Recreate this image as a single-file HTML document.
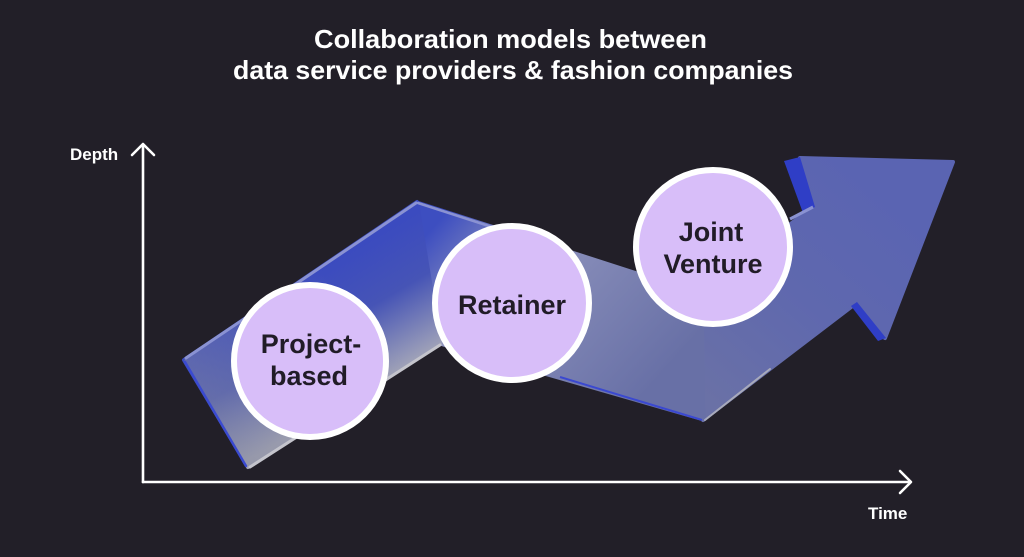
<!DOCTYPE html>
<html>
<head>
<meta charset="utf-8">
<style>
  html,body{margin:0;padding:0;background:#221f28;}
  body{width:1024px;height:557px;overflow:hidden;}
  svg{display:block;}
  text{font-family:"Liberation Sans", Arial, sans-serif;font-weight:bold;}
</style>
</head>
<body>
<svg width="1024" height="557" viewBox="0 0 1024 557" xmlns="http://www.w3.org/2000/svg">
  <defs>
    <linearGradient id="gA" gradientUnits="userSpaceOnUse" x1="300" y1="281" x2="365" y2="392">
      <stop offset="0" stop-color="#3b4bbf"/>
      <stop offset="0.45" stop-color="#4654b6"/>
      <stop offset="1" stop-color="#a2a4b8"/>
    </linearGradient>
    <linearGradient id="gA2" gradientUnits="userSpaceOnUse" x1="340" y1="290" x2="205" y2="420">
      <stop offset="0" stop-color="#8a8c9c" stop-opacity="0"/>
      <stop offset="1" stop-color="#8a8c9c" stop-opacity="0.5"/>
    </linearGradient>
    <linearGradient id="gB" gradientUnits="userSpaceOnUse" x1="440" y1="220" x2="640" y2="400">
      <stop offset="0" stop-color="#3d4ec0"/>
      <stop offset="0.3" stop-color="#8e93bd"/>
      <stop offset="1" stop-color="#6870a6"/>
    </linearGradient>
    <linearGradient id="gC" gradientUnits="userSpaceOnUse" x1="720" y1="410" x2="900" y2="200">
      <stop offset="0" stop-color="#6a71a6"/>
      <stop offset="0.5" stop-color="#5f68ae"/>
      <stop offset="1" stop-color="#5a64b2"/>
    </linearGradient>
  </defs>

  <!-- Title -->
  <text x="314" y="48" font-size="26" fill="#ffffff" textLength="393" lengthAdjust="spacingAndGlyphs">Collaboration models between</text>
  <text x="233" y="79" font-size="26" fill="#ffffff" textLength="560" lengthAdjust="spacingAndGlyphs">data service providers &amp; fashion companies</text>

  <!-- Ribbon arrow -->
  <g stroke-linejoin="round">
    <!-- segment C (right shaft + head) -->
    <polygon points="698,294 813,207 800,158 953,162 885,338 855,304 703,420" fill="url(#gC)" stroke="url(#gC)" stroke-width="4"/>
    <!-- segment B (middle) -->
    <polygon points="417,202 702,294 704,420 440,344" fill="url(#gB)" stroke="url(#gB)" stroke-width="3"/>
    <!-- segment A (left) -->
    <polygon points="184,360 417,202 440,344 248,467" fill="url(#gA)" stroke="url(#gA)" stroke-width="4"/>
    <polygon points="184,360 417,202 440,344 248,467" fill="url(#gA2)"/>

    <!-- side faces / edges -->
    <polygon points="784,161 800,157 815,207 803,213" fill="#2f3ec6"/>
    <polygon points="851,306 857,302 886,338 878,341" fill="#2f3ec6"/>
    <line x1="186" y1="358" x2="416" y2="203" stroke="#8a92d2" stroke-width="3" stroke-linecap="round"/>
    <line x1="418" y1="203" x2="495" y2="228" stroke="#8a92d2" stroke-width="2.5" stroke-linecap="round"/>
    <line x1="185" y1="362" x2="246" y2="466" stroke="#3a4ad0" stroke-width="2.5" stroke-linecap="round"/>
    <line x1="250" y1="467" x2="440" y2="345" stroke="#c4c4cc" stroke-width="3" stroke-linecap="round"/>
    <line x1="560" y1="377" x2="702" y2="420" stroke="#3a48d0" stroke-width="2"/>
    <line x1="705" y1="420" x2="770" y2="369" stroke="#a8aabb" stroke-width="2" stroke-linecap="round"/>
    <line x1="790" y1="219" x2="813" y2="207" stroke="#8a92d2" stroke-width="3"/>
  </g>

  <!-- Axes -->
  <g stroke="#ffffff" stroke-width="2.6" fill="none" stroke-linecap="round" stroke-linejoin="round">
    <line x1="143" y1="145" x2="143" y2="482"/>
    <line x1="143" y1="482" x2="909" y2="482"/>
    <polyline points="132,155 143,144 154,155"/>
    <polyline points="900,471 911,482 900,493"/>
  </g>
  <text x="70" y="160" font-size="17" fill="#ffffff">Depth</text>
  <text x="868" y="519" font-size="17" fill="#ffffff">Time</text>

  <!-- Circles -->
  <g fill="#d8bef9" stroke="#ffffff" stroke-width="6">
    <circle cx="310" cy="361" r="76"/>
    <circle cx="512" cy="303" r="77"/>
    <circle cx="713" cy="247" r="77"/>
  </g>
  <g fill="#211c27" font-size="27" text-anchor="middle">
    <text x="311" y="353">Project-</text>
    <text x="309" y="385">based</text>
    <text x="512" y="314">Retainer</text>
    <text x="711" y="241">Joint</text>
    <text x="713" y="273">Venture</text>
  </g>
</svg>
</body>
</html>
